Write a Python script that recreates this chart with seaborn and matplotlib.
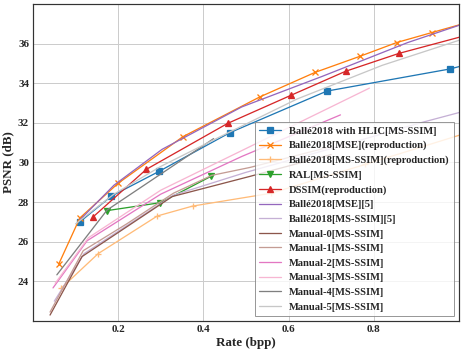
import matplotlib
matplotlib.use("Agg")
import matplotlib.pyplot as plt
import seaborn as sns
import pandas as pd

# ---- data (rate in bpp, PSNR in dB) ----
hlic_x = [0.110, 0.184, 0.296, 0.462, 0.690, 0.980, 1.10]
hlic_y = [27.00, 28.30, 29.55, 31.50, 33.60, 34.72, 35.40]

mse_rep_x = [0.061, 0.110, 0.200, 0.352, 0.532, 0.663, 0.767, 0.854, 0.936, 1.06]
mse_rep_y = [24.90, 27.20, 28.95, 31.30, 33.30, 34.55, 35.35, 36.05, 36.55, 37.30]

msssim_rep_x = [0.066, 0.153, 0.292, 0.375, 0.560, 0.780, 1.02]
msssim_rep_y = [23.65, 25.40, 27.30, 27.80, 28.45, 29.90, 31.50]

ral_x = [0.174, 0.299, 0.418]
ral_y = [27.57, 27.97, 29.30]

dssim_x = [0.142, 0.266, 0.457, 0.607, 0.734, 0.859, 1.05]
dssim_y = [27.27, 29.65, 31.97, 33.40, 34.60, 35.50, 36.60]

balle_mse_x = [0.110, 0.190, 0.303, 0.490, 0.680, 0.880, 1.06]
balle_mse_y = [27.10, 28.85, 30.66, 32.80, 34.35, 36.05, 37.35]

balle_msssim_x = [0.050, 0.120, 0.330, 0.500, 0.700, 0.910, 1.05]
balle_msssim_y = [23.00, 25.40, 28.35, 29.50, 30.70, 32.00, 32.80]

man0_x = [0.040, 0.115, 0.327, 0.510, 0.700]
man0_y = [22.30, 25.25, 28.28, 29.30, 30.40]

man1_x = [0.040, 0.118, 0.220, 0.330, 0.420, 0.510, 0.700]
man1_y = [22.45, 25.55, 26.90, 28.45, 29.35, 29.75, 30.80]

man2_x = [0.047, 0.127, 0.300, 0.490, 0.722]
man2_y = [23.67, 26.05, 28.40, 30.30, 32.40]

man3_x = [0.052, 0.130, 0.300, 0.500, 0.790]
man3_y = [23.90, 26.20, 28.60, 30.70, 33.75]

man4_x = [0.056, 0.174, 0.424]
man4_y = [24.33, 27.60, 31.20]

man5_x = [0.100, 0.190, 0.300, 0.430, 0.620, 0.820, 1.02]
man5_y = [26.90, 28.40, 29.80, 31.20, 33.20, 34.90, 36.30]

labels = [
    "Ballé2018 with HLIC[MS-SSIM]",
    "Ballé2018[MSE](reproduction)",
    "Ballé2018[MS-SSIM](reproduction)",
    "RAL[MS-SSIM]",
    "DSSIM(reproduction)",
    "Ballé2018[MSE][5]",
    "Ballé2018[MS-SSIM][5]",
    "Manual-0[MS-SSIM]",
    "Manual-1[MS-SSIM]",
    "Manual-2[MS-SSIM]",
    "Manual-3[MS-SSIM]",
    "Manual-4[MS-SSIM]",
    "Manual-5[MS-SSIM]",
]
series_x = [hlic_x, mse_rep_x, msssim_rep_x, ral_x, dssim_x, balle_mse_x,
            balle_msssim_x, man0_x, man1_x, man2_x, man3_x, man4_x, man5_x]
series_y = [hlic_y, mse_rep_y, msssim_rep_y, ral_y, dssim_y, balle_mse_y,
            balle_msssim_y, man0_y, man1_y, man2_y, man3_y, man4_y, man5_y]

x_ticks = [0.2, 0.4, 0.6, 0.8]
y_ticks = [24, 26, 28, 30, 32, 34, 36]

# ---- style ----
sns.set_theme(style="whitegrid")
plt.rcParams["font.family"] = ["Liberation Serif", "DejaVu Serif"]
plt.rcParams["font.weight"] = "bold"
plt.rcParams["axes.labelweight"] = "bold"

tab20 = sns.color_palette("tab20", 20)
colors = [tab20[0], tab20[2], tab20[3], tab20[4], tab20[6], tab20[8], tab20[9],
          tab20[10], tab20[11], tab20[12], tab20[13], tab20[14], tab20[15]]
markers = ["s", "x", "+", "v", "^", None, None, None, None, None, None, None, None]

fig = plt.figure(figsize=(463 / 72, 354 / 72), dpi=72)
ax = fig.add_axes([0.0713, 0.0932, 0.9197, 0.8958])

for lab, xs, ys, c, m in zip(labels, series_x, series_y, colors, markers):
    df = pd.DataFrame({"x": xs, "y": ys})
    kw = dict(marker=m, markersize=5.5, markeredgewidth=1.3,
              markeredgecolor=c, markerfacecolor=c) if m else {}
    sns.lineplot(data=df, x="x", y="y", ax=ax, color=c, label=lab,
                 sort=False, estimator=None, linewidth=1.3, **kw)

ax.set_xlim(0.0, 1.0)
ax.set_ylim(22.0, 38.0)
ax.set_xticks(x_ticks)
ax.set_yticks(y_ticks)
ax.set_xticklabels([f"{t:.1f}" for t in x_ticks], fontsize=11, fontweight="bold")
ax.set_yticklabels([str(t) for t in y_ticks], fontsize=11, fontweight="bold")
ax.tick_params(axis="both", pad=4, length=0)
ax.set_xlabel("Rate (bpp)", fontsize=13, fontweight="bold", labelpad=3)
ax.set_ylabel("PSNR (dB)", fontsize=13, fontweight="bold", labelpad=3)
for s in ax.spines.values():
    s.set_edgecolor("0.2")
    s.set_linewidth(1.2)

leg = ax.legend(loc="lower right", fontsize=10.5, frameon=True, framealpha=0.8,
                edgecolor="0.5", fancybox=False, labelspacing=0.5,
                handlelength=2.1, handletextpad=0.75, borderpad=0.4,
                borderaxespad=0.5)
for t in leg.get_texts():
    t.set_fontweight("bold")

fig.savefig("out.png", dpi=72)
